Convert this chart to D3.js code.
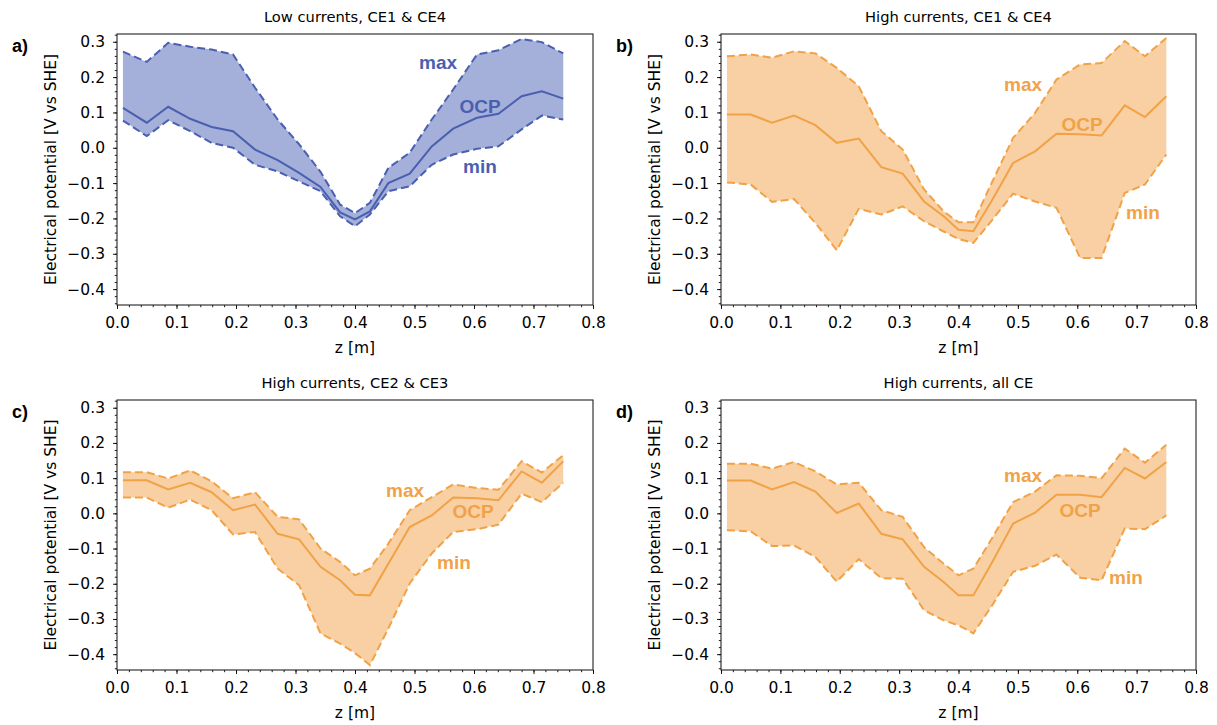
<!DOCTYPE html>
<html>
<head>
<meta charset="utf-8">
<script src="https://cdn.jsdelivr.net/npm/d3@7"></script>
<style>
  body { margin: 0; background: #fff; }
  svg { display: block; }
  .tick-label { font-family: "DejaVu Sans", sans-serif; font-size: 15.5px; fill: #000; }
  .title { font-family: "DejaVu Sans", sans-serif; font-size: 14.7px; fill: #000; }
  .panel-tag { font-family: "Liberation Sans", Arial, sans-serif; font-size: 18px; font-weight: bold; }
  .note { font-family: "Liberation Sans", Arial, sans-serif; font-size: 19px; font-weight: bold; }
</style>
</head>
<body>
<svg width="1217" height="725"></svg>
<script>
// positions along the cell [m]
const zPos = [0.01, 0.05, 0.086, 0.123, 0.159, 0.195, 0.232, 0.27, 0.306, 0.342, 0.375,
              0.40, 0.425, 0.456, 0.492, 0.529, 0.565, 0.605, 0.641, 0.68, 0.714, 0.75];

// a) low currents, CE1 & CE4
const aOcp = [0.113, 0.071, 0.116, 0.082, 0.059, 0.047, -0.005, -0.035, -0.071, -0.111, -0.183,
              -0.203, -0.180, -0.100, -0.073, 0.004, 0.054, 0.085, 0.096, 0.146, 0.160, 0.139];
const aMax = [0.272, 0.243, 0.297, 0.286, 0.278, 0.264, 0.170, 0.080, 0.010, -0.068, -0.161,
              -0.185, -0.156, -0.057, -0.014, 0.080, 0.165, 0.264, 0.276, 0.308, 0.299, 0.267];
const aMin = [0.077, 0.033, 0.078, 0.047, 0.014, 0.000, -0.048, -0.067, -0.095, -0.123, -0.194,
              -0.222, -0.189, -0.123, -0.109, -0.048, -0.019, -0.003, 0.004, 0.052, 0.091, 0.080];

// b) high currents, CE1 & CE4
const bOcp = [0.094, 0.094, 0.071, 0.091, 0.064, 0.014, 0.026, -0.055, -0.073, -0.152, -0.194,
              -0.232, -0.236, -0.150, -0.043, -0.010, 0.040, 0.038, 0.035, 0.120, 0.087, 0.146];
const bMax = [0.259, 0.264, 0.255, 0.273, 0.267, 0.226, 0.174, 0.047, -0.005, -0.118, -0.180,
              -0.211, -0.211, -0.099, 0.028, 0.099, 0.193, 0.236, 0.240, 0.302, 0.259, 0.311];
const bMin = [-0.098, -0.104, -0.153, -0.145, -0.213, -0.290, -0.173, -0.189, -0.166, -0.208, -0.237,
              -0.258, -0.269, -0.206, -0.130, -0.152, -0.170, -0.312, -0.312, -0.128, -0.104, -0.019];

// c) high currents, CE2 & CE3
const cOcp = [0.094, 0.094, 0.068, 0.087, 0.060, 0.009, 0.025, -0.058, -0.074, -0.152, -0.190,
              -0.231, -0.233, -0.143, -0.039, -0.006, 0.045, 0.043, 0.037, 0.119, 0.087, 0.148];
const cMax = [0.117, 0.117, 0.099, 0.122, 0.091, 0.043, 0.060, -0.010, -0.017, -0.100, -0.138,
              -0.176, -0.157, -0.086, 0.009, 0.046, 0.082, 0.072, 0.067, 0.148, 0.116, 0.165];
const cMin = [0.045, 0.045, 0.016, 0.039, 0.009, -0.060, -0.053, -0.157, -0.204, -0.341, -0.370,
              -0.397, -0.431, -0.327, -0.199, -0.114, -0.053, -0.045, -0.032, 0.056, 0.032, 0.087];

// d) high currents, all CE
const dOcp = [0.093, 0.093, 0.068, 0.089, 0.062, 0.001, 0.028, -0.058, -0.074, -0.152, -0.195,
              -0.233, -0.233, -0.141, -0.029, 0.002, 0.053, 0.053, 0.046, 0.129, 0.099, 0.146];
const dMax = [0.141, 0.141, 0.127, 0.146, 0.119, 0.082, 0.087, 0.009, -0.010, -0.096, -0.143,
              -0.176, -0.157, -0.072, 0.032, 0.062, 0.108, 0.107, 0.100, 0.184, 0.144, 0.195];
const dMin = [-0.048, -0.051, -0.093, -0.091, -0.124, -0.194, -0.130, -0.184, -0.186, -0.275, -0.304,
              -0.318, -0.341, -0.263, -0.166, -0.149, -0.117, -0.183, -0.190, -0.043, -0.045, -0.006];

const titles = ["Low currents, CE1 & CE4", "High currents, CE1 & CE4",
                "High currents, CE2 & CE3", "High currents, all CE"];
const tags = ["a)", "b)", "c)", "d)"];
const xTicks = [0, 0.1, 0.2, 0.3, 0.4, 0.5, 0.6, 0.7, 0.8];
const yTicks = [0.3, 0.2, 0.1, 0, -0.1, -0.2, -0.3, -0.4];

const blue = {line: "#4b5fb1", fill: "#a4b0d9"};
const orange = {line: "#f1a247", fill: "#f8d0a3"};

const panels = [
  {ocp: aOcp, max: aMax, min: aMin, col: blue,   box: [117, 593, 34, 305],
   notes: [["max", 438, 69], ["OCP", 480, 113], ["min", 480, 173]]},
  {ocp: bOcp, max: bMax, min: bMin, col: orange, box: [721, 1196, 34, 305],
   notes: [["max", 1023, 91], ["OCP", 1082, 131], ["min", 1143, 219]]},
  {ocp: cOcp, max: cMax, min: cMin, col: orange, box: [117, 593, 400, 670],
   notes: [["max", 405, 497], ["OCP", 473, 518], ["min", 454, 569]]},
  {ocp: dOcp, max: dMax, min: dMin, col: orange, box: [721, 1196, 400, 670],
   notes: [["max", 1023, 482], ["OCP", 1080, 517], ["min", 1126, 584]]}
];

const svg = d3.select("svg");
const fmt = d => d3.format(".1f")(d).replace("-", "\u2212");

panels.forEach((p, i) => {
  const [x0, x1, y0, y1] = p.box;
  const x = d3.scaleLinear().domain([0, 0.8]).range([x0, x1]);
  const y = d3.scaleLinear().domain([-0.445, 0.322]).range([y1, y0]);
  const g = svg.append("g");

  const rows = zPos.map((z, k) => ({z: z, ocp: p.ocp[k], hi: p.max[k], lo: p.min[k]}));

  g.append("path")
    .datum(rows)
    .attr("fill", p.col.fill)
    .attr("d", d3.area().x(d => x(d.z)).y0(d => y(d.lo)).y1(d => y(d.hi)));

  [["hi", "8,4"], ["lo", "8,4"], ["ocp", null]].forEach(([key, dash]) => {
    g.append("path")
      .datum(rows)
      .attr("fill", "none")
      .attr("stroke", p.col.line)
      .attr("stroke-width", 2)
      .attr("stroke-dasharray", dash)
      .attr("d", d3.line().x(d => x(d.z)).y(d => y(d[key])));
  });

  // axes: outward ticks, minor every 0.02
  g.append("g").attr("transform", `translate(0,${y1})`)
    .call(d3.axisBottom(x).tickValues(xTicks).tickFormat(d3.format(".1f")).tickSize(4).tickPadding(8));
  g.append("g").attr("transform", `translate(0,${y1})`)
    .call(d3.axisBottom(x).tickValues(d3.range(0, 0.801, 0.02)).tickFormat("").tickSize(2.2));
  g.append("g").attr("transform", `translate(${x0},0)`)
    .call(d3.axisLeft(y).tickValues(yTicks).tickFormat(fmt).tickSize(4).tickPadding(8));
  g.append("g").attr("transform", `translate(${x0},0)`)
    .call(d3.axisLeft(y).tickValues(d3.range(-0.44, 0.321, 0.02)).tickFormat("").tickSize(2.2));
  g.selectAll(".domain").remove();
  g.selectAll(".tick line").attr("stroke", "#000").attr("stroke-width", 0.9);
  g.selectAll(".tick text").attr("class", "tick-label").attr("font-size", null).attr("font-family", null);

  g.append("rect")
    .attr("x", x0).attr("y", y0)
    .attr("width", x1 - x0).attr("height", y1 - y0)
    .attr("fill", "none").attr("stroke", "#222").attr("stroke-width", 1.1);

  g.append("text").attr("class", "title")
    .attr("x", (x0 + x1) / 2).attr("y", y0 - 12)
    .attr("text-anchor", "middle").text(titles[i]);

  g.append("text").attr("class", "tick-label")
    .attr("x", (x0 + x1) / 2).attr("y", y1 + 48)
    .attr("text-anchor", "middle").text("z [m]");

  g.append("text").attr("class", "tick-label")
    .attr("transform", `translate(${x0 - 61},${(y0 + y1) / 2}) rotate(-90)`)
    .attr("text-anchor", "middle").text("Electrical potential [V vs SHE]");

  g.append("text").attr("class", "panel-tag")
    .attr("x", x0 - 105).attr("y", y0 + 18).text(tags[i]);

  p.notes.forEach(([t, nx, ny]) => {
    g.append("text").attr("class", "note")
      .attr("x", nx).attr("y", ny)
      .attr("text-anchor", "middle")
      .attr("fill", p.col.line)
      .text(t);
  });
});
</script>
</body>
</html>
